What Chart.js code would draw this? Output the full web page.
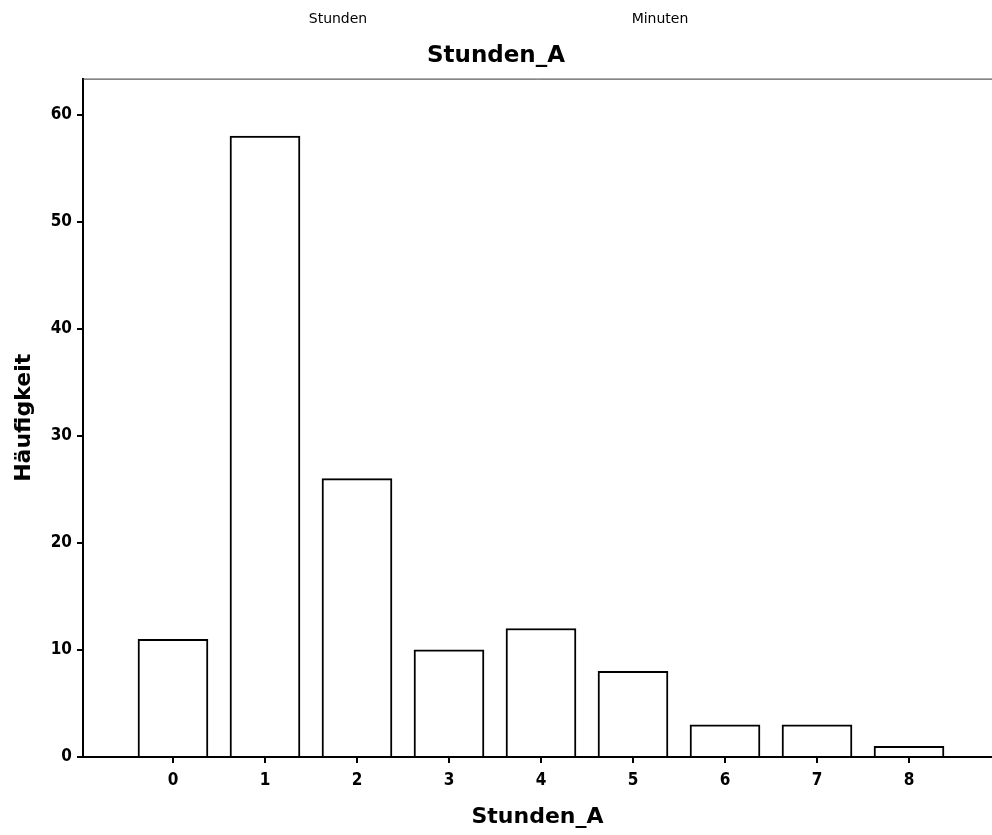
<!DOCTYPE html>
<html>
<head>
<meta charset="utf-8">
<script src="https://cdn.jsdelivr.net/npm/chart.js@4/dist/chart.umd.min.js"></script>
<style>
  html, body { margin: 0; padding: 0; background: #fff; }
  #wrap { width: 992px; height: 835px; }
</style>
</head>
<body>
<div id="wrap"><canvas id="c" width="992" height="835"></canvas></div>
<script>
// ---- data ----
const categories = [0, 1, 2, 3, 4, 5, 6, 7, 8];
const frequencies = [11, 58, 26, 10, 12, 8, 3, 3, 1];
const yTickValues = [0, 10, 20, 30, 40, 50, 60];
const chartTitle = 'Stunden_A';
const xTitle = 'Stunden_A';
const yTitle = 'Häufigkeit';
const headerLabels = ['Stunden', 'Minuten'];

const tickFont = { family: '"DejaVu Sans Condensed", "DejaVu Sans", sans-serif', size: 17, weight: 'bold' };
const titleFont = { family: '"DejaVu Sans", sans-serif', size: 23, weight: 'bold' };
const axisTitleFont = { family: '"DejaVu Sans", sans-serif', size: 22, weight: 'bold' };

const extras = {
  id: 'extras',
  afterDraw(chart) {
    const { ctx, chartArea } = chart;
    ctx.save();
    // top frame line
    ctx.strokeStyle = '#333';
    ctx.lineWidth = 1;
    ctx.beginPath();
    ctx.moveTo(chartArea.left, chartArea.top + 0.5);
    ctx.lineTo(chartArea.right, chartArea.top + 0.5);
    ctx.stroke();
    // partially visible header labels
    ctx.fillStyle = '#000';
    ctx.font = '14px "DejaVu Sans", sans-serif';
    ctx.textAlign = 'center';
    ctx.textBaseline = 'middle';
    ctx.fillText(headerLabels[0], 338, 19);
    ctx.fillText(headerLabels[1], 660, 19);
    ctx.restore();
  }
};

new Chart(document.getElementById('c'), {
  type: 'bar',
  data: {
    datasets: [{
      data: categories.map((c, i) => ({ x: c, y: frequencies[i] })),
      backgroundColor: '#fff',
      borderColor: '#000',
      borderWidth: 2,
      barThickness: 70
    }]
  },
  options: {
    responsive: false,
    animation: false,
    devicePixelRatio: 1,
    layout: { padding: { left: 0, right: 0, top: 0, bottom: 0 } },
    plugins: {
      legend: { display: false },
      tooltip: { enabled: false },
      title: {
        display: true,
        text: chartTitle,
        color: '#000',
        font: titleFont,
        padding: { top: 42, bottom: 9 }
      }
    },
    scales: {
      x: {
        type: 'linear',
        position: 'bottom',
        offset: false,
        min: -0.978,
        max: 8.902,
        afterBuildTicks(scale) { scale.ticks = categories.map(v => ({ value: v })); },
        afterFit(scale) { scale.height = 78; },
        ticks: { color: '#000', font: tickFont, padding: 7, autoSkip: false, maxRotation: 0 },
        grid: { offset: false, drawOnChartArea: false, drawTicks: true, tickLength: 6, color: '#000', lineWidth: 2 },
        border: { display: true, color: '#000', width: 2 },
        title: { display: true, text: xTitle, color: '#000', font: axisTitleFont, padding: { top: 0, bottom: 5 } }
      },
      y: {
        type: 'linear',
        min: 0,
        max: 63.36,
        afterBuildTicks(scale) { scale.ticks = yTickValues.map(v => ({ value: v })); },
        afterFit(scale) { scale.width = 83; },
        ticks: { color: '#000', font: tickFont, padding: 5 },
        grid: { drawOnChartArea: false, drawTicks: true, tickLength: 6, color: '#000', lineWidth: 2 },
        border: { display: true, color: '#000', width: 2 },
        title: { display: true, text: yTitle, color: '#000', font: axisTitleFont, padding: { top: 11, bottom: 0 } }
      }
    }
  },
  plugins: [extras]
});
</script>
</body>
</html>
